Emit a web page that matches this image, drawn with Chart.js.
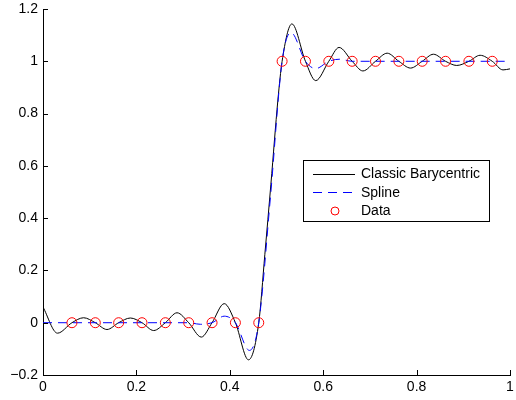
<!DOCTYPE html>
<html>
<head>
<meta charset="utf-8">
<script src="https://cdn.jsdelivr.net/npm/chart.js@4.4.1/dist/chart.umd.min.js"></script>
<style>
  html, body { margin: 0; padding: 0; background: #fff; }
  #wrap { width: 516px; height: 400px; }
</style>
</head>
<body>
<div id="wrap"><canvas id="interpChart" width="516" height="400"></canvas></div>
<script>
// values
const seriesNames = ['Classic Barycentric', 'Spline', 'Data'];

const baryX = [0, 0.031, 0.062, 0.087, 0.112, 0.137, 0.162, 0.187, 0.212, 0.237, 0.262, 0.287, 0.312, 0.339, 0.362, 0.388, 0.412, 0.440, 0.462, 0.475, 0.488, 0.503, 0.512, 0.533, 0.562, 0.584, 0.612, 0.634, 0.662, 0.685, 0.712, 0.737, 0.762, 0.787, 0.812, 0.836, 0.862, 0.886, 0.912, 0.936, 0.962, 0.985, 1.0];
const baryY = [0.06, -0.040, 0, 0.019, 0, -0.026, 0, 0.018, 0, -0.030, 0, 0.038, 0, -0.055, 0, 0.073, 0, -0.142, 0, 0.26, 0.53, 0.852, 1, 1.143, 1, 0.926, 1, 1.053, 1, 0.963, 1, 1.031, 1, 0.974, 1, 1.027, 1, 0.984, 1, 1.023, 1, 0.967, 0.971];

const splineX = [0, 0.062, 0.112, 0.162, 0.212, 0.262, 0.312, 0.337, 0.362, 0.388, 0.412, 0.442, 0.462, 0.487, 0.512, 0.531, 0.562, 0.584, 0.612, 0.636, 0.662, 0.712, 0.762, 0.812, 0.862, 0.912, 0.962, 1.0];
const splineY = [0, 0, 0, 0, 0, 0, 0, -0.006, 0, 0.025, 0, -0.106, 0, 0.48, 1, 1.11, 1, 0.972, 1, 1.008, 1, 1, 1, 1, 1, 1, 1, 1];

const dataX = [0.062, 0.112, 0.162, 0.212, 0.262, 0.312, 0.362, 0.412, 0.462, 0.512, 0.562, 0.612, 0.662, 0.712, 0.762, 0.812, 0.862, 0.912, 0.962];
const dataY = [0, 0, 0, 0, 0, 0, 0, 0, 0, 1, 1, 1, 1, 1, 1, 1, 1, 1, 1];

const xTicks = [0, 0.2, 0.4, 0.6, 0.8, 1];
const yTicks = [-0.2, 0, 0.2, 0.4, 0.6, 0.8, 1, 1.2];

const toPts = (xs, ys) => xs.map((x, i) => ({ x: x, y: ys[i] }));
const fmt = v => {
  const s = String(Number(v.toFixed(1)));
  return s.replace('-', '\u2212');
};

// matlab style ticks pointing into the plot
const innerTicks = {
  id: 'innerTicks',
  afterDraw(chart) {
    const { ctx, chartArea, scales } = chart;
    ctx.save();
    ctx.strokeStyle = '#000';
    ctx.lineWidth = 1;
    ctx.beginPath();
    xTicks.forEach(v => {
      const px = Math.round(scales.x.getPixelForValue(v)) + 0.5;
      ctx.moveTo(px, chartArea.bottom);
      ctx.lineTo(px, chartArea.bottom - 5);
    });
    yTicks.forEach(v => {
      const py = Math.round(scales.y.getPixelForValue(v)) + 0.5;
      ctx.moveTo(chartArea.left, py);
      ctx.lineTo(chartArea.left + 5, py);
    });
    ctx.stroke();
    ctx.restore();
  }
};

// legend box inside the axes
const boxLegend = {
  id: 'boxLegend',
  afterDraw(chart) {
    const ctx = chart.ctx;
    const left = 303.5, top = 160.5, w = 186, h = 61;
    ctx.save();
    ctx.fillStyle = '#fff';
    ctx.fillRect(left, top, w, h);
    ctx.strokeStyle = '#000';
    ctx.lineWidth = 1;
    ctx.strokeRect(left, top, w, h);
    const rows = [174, 192.5, 211];
    ctx.font = '14px "Liberation Sans", Arial, sans-serif';
    ctx.textBaseline = 'middle';
    ctx.fillStyle = '#000';
    rows.forEach((ry, i) => {
      ctx.fillText(seriesNames[i], 361, ry + 0.5);
    });
    // solid line
    ctx.beginPath();
    ctx.strokeStyle = '#000';
    ctx.moveTo(313, 174.5);
    ctx.lineTo(355, 174.5);
    ctx.stroke();
    // dashed line
    ctx.beginPath();
    ctx.strokeStyle = '#0000ff';
    ctx.setLineDash([9, 6]);
    ctx.moveTo(313, 192.5);
    ctx.lineTo(357, 192.5);
    ctx.stroke();
    ctx.setLineDash([]);
    // circle
    ctx.beginPath();
    ctx.strokeStyle = '#ff0000';
    ctx.arc(335, 211, 4, 0, Math.PI * 2);
    ctx.stroke();
    ctx.restore();
  }
};

const config = {
  type: 'scatter',
  data: {
    datasets: [
      {
        label: seriesNames[2],
        data: toPts(dataX, dataY),
        showLine: false,
        pointRadius: 5,
        pointHoverRadius: 5,
        pointBorderWidth: 1,
        pointBorderColor: '#ff0000',
        pointBackgroundColor: 'rgba(0,0,0,0)',
        order: 0
      },
      {
        label: seriesNames[1],
        data: toPts(splineX, splineY),
        showLine: true,
        borderColor: '#0000ff',
        borderWidth: 1,
        borderDash: [9, 6],
        pointRadius: 0,
        cubicInterpolationMode: 'monotone',
        order: 1
      },
      {
        label: seriesNames[0],
        data: toPts(baryX, baryY),
        showLine: true,
        borderColor: '#000000',
        borderWidth: 1,
        pointRadius: 0,
        cubicInterpolationMode: 'monotone',
        order: 2
      }
    ]
  },
  options: {
    responsive: false,
    animation: false,
    events: [],
    layout: { padding: { top: 9, right: 4, left: 0, bottom: 0 } },
    plugins: {
      legend: { display: false },
      tooltip: { enabled: false }
    },
    scales: {
      x: {
        type: 'linear',
        min: 0,
        max: 1,
        afterFit: s => { s.height = 25; s.paddingLeft = 0; s.paddingRight = 0; },
        afterBuildTicks: s => { s.ticks = xTicks.map(v => ({ value: v })); },
        grid: { display: false, drawTicks: false },
        border: { display: true, color: '#000', width: 1 },
        ticks: {
          padding: 4,
          color: '#000',
          font: { family: '"Liberation Sans", Arial, sans-serif', size: 14 },
          maxRotation: 0,
          callback: v => fmt(v)
        }
      },
      y: {
        type: 'linear',
        min: -0.2,
        max: 1.2,
        afterFit: s => { s.width = 43; s.paddingTop = 0; s.paddingBottom = 0; },
        afterBuildTicks: s => { s.ticks = yTicks.map(v => ({ value: v })); },
        grid: { display: false, drawTicks: false },
        border: { display: true, color: '#000', width: 1 },
        ticks: {
          padding: 5,
          color: '#000',
          font: { family: '"Liberation Sans", Arial, sans-serif', size: 14 },
          callback: v => fmt(v)
        }
      }
    }
  },
  plugins: [innerTicks, boxLegend]
};

const ctx = document.getElementById('interpChart').getContext('2d');
const myChart = new Chart(ctx, config);
</script>
</body>
</html>
